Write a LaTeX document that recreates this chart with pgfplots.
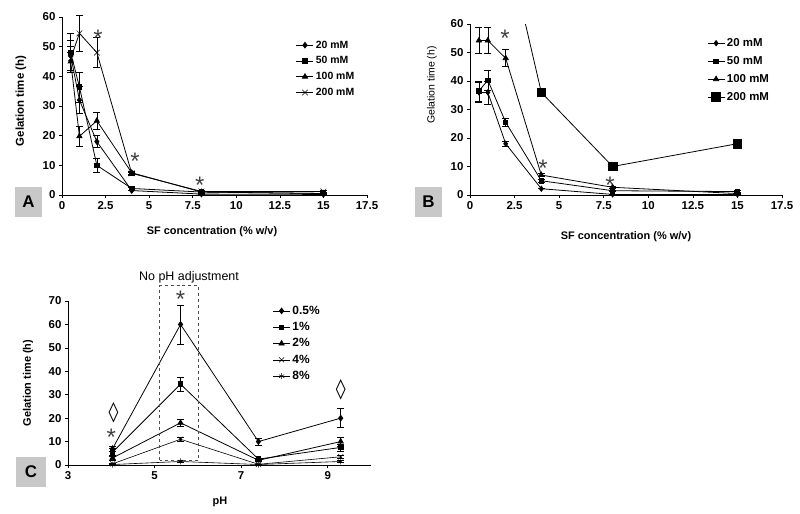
\documentclass[border=0pt]{standalone}
\usepackage{pgfplots}
\pgfplotsset{compat=1.18}
\usepackage{fontspec}
\setmainfont{Liberation Sans}
\newfontfamily\dejavu{DejaVu Sans}
\definecolor{boxgray}{RGB}{200,200,200}
\tikzset{
  ser/.style={black, line width=0.8pt, mark options={solid, fill=black}},
  ast/.style={font=\fontsize{24}{24}\selectfont, text=black!75, yshift=-5bp},
}
\pgfplotsset{
  panel/.style={
    scale only axis,
    axis x line*=bottom, axis y line*=left,
    tick align=outside, major tick length=3bp,
    tick style={black, line width=0.6pt},
    axis line style={black, line width=0.8pt},
    ticklabel style={font=\bfseries\fontsize{11.5}{12}\selectfont},
    /pgf/number format/assume math mode=true,
    legend cell align=left,
    cycle list={{black}},
    error bars/y dir=both, error bars/y explicit,
    error bars/error bar style={black, line width=0.6pt},
    error bars/error mark options={rotate=90, black, mark size=3.5bp, line width=0.6pt},
  },
}
\begin{document}
\begin{tikzpicture}
\useasboundingbox (0,0) rectangle (800bp,514bp);
% ---------------- Panel A ----------------
\begin{axis}[panel, at={(62bp,319bp)}, anchor=south west,
  width=305bp, height=178bp, xmin=0, xmax=17.5, ymin=0, ymax=60,
  xtick={0,2.5,5,7.5,10,12.5,15,17.5}, ytick={0,10,...,60},
  clip=false,
  legend style={at={(0.757,0.89)}, anchor=north west, draw=none, fill=none,
    font=\bfseries\fontsize{10.5}{11}\selectfont, row sep=3bp}]
\addplot[ser, mark=diamond*, mark size=2.8bp] table[y error=e]{
x y e
0.5 47 5
1 32 4.5
2 18 2
4 1.5 0
8 0.3 0
15 0.2 0
};
\addlegendentry{20 mM}
\addplot[ser, mark=square*, mark size=2.3bp] table[y error=e]{
x y e
0.5 48 6.5
1 36.4 5
2 10 2.5
4 2.2 0.5
8 1 0.3
15 0.5 0
};
\addlegendentry{50 mM}
\addplot[ser, mark=triangle*, mark size=3bp] table[y error=e]{
x y e
0.5 45 3
1 19.8 3.5
2 25 3
4 7.5 0.5
8 1 0.3
15 0.5 0
};
\addlegendentry{100 mM}
\addplot[ser, mark=x, mark size=4bp, mark options={line width=0.5pt}] table[y error=e]{
x y e
0.5 46 4
1 54.5 6
2 48 5
4 7.3 0.5
8 1.2 0.3
15 1.2 0.3
};
\addlegendentry{200 mM}
\node[ast] at (axis cs:2.07,54.5) {*};
\node[ast] at (axis cs:4.19,13.1) {*};
\node[ast] at (axis cs:7.9,5) {*};
\end{axis}
% ---------------- Panel B ----------------
\begin{axis}[panel, at={(470bp,319bp)}, anchor=south west,
  width=312bp, height=171bp, xmin=0, xmax=17.5, ymin=0, ymax=60,
  xtick={0,2.5,5,7.5,10,12.5,15,17.5}, ytick={0,10,...,60},
  clip mode=individual,
  legend style={at={(0.75,0.94)}, anchor=north west, draw=none, fill=none,
    font=\bfseries\fontsize{11.5}{12}\selectfont, row sep=4.5bp}]
\addplot[ser, mark=diamond*, mark size=2.6bp] table[y error=e]{
x y e
0.5 36 3.5
1 36 4
2 18 1
4 2.2 0
8 0.2 0
15 0.2 0
};
\addlegendentry{20 mM}
\addplot[ser, mark=square*, mark size=2.2bp] table[y error=e]{
x y e
0.5 36.5 3.5
1 40.3 3.5
2 25.5 1.5
4 5 0.5
8 1.5 0.3
15 1.2 0.3
};
\addlegendentry{50 mM}
\addplot[ser, mark=triangle*, mark size=3bp] table[y error=e]{
x y e
0.5 54.2 4.5
1 54.2 4.5
2 48 3
4 7 0.5
8 2.7 0.3
15 0.5 0
};
\addlegendentry{100 mM}
\addplot[ser, mark=square*, mark size=4.3bp] table[y error=e]{
x y e
2 90 0
4 36 0
8 10 0
15 18 0
};
\addlegendentry{200 mM}
\node[ast] at (axis cs:1.96,56.8) {*};
\node[ast] at (axis cs:4.1,11.2) {*};
\node[ast] at (axis cs:7.85,5.3) {*};
\end{axis}
% ---------------- Panel C ----------------
\begin{axis}[panel, at={(68bp,49bp)}, anchor=south west,
  width=303bp, height=164bp, xmin=3, xmax=10, ymin=0, ymax=70,
  xtick={3,5,7,9}, ytick={0,10,...,70},
  clip=false,
  legend style={at={(0.665,0.995)}, anchor=north west, draw=none, fill=none,
    font=\bfseries\fontsize{12}{12}\selectfont, row sep=2.5bp}]
\addplot[ser, mark=diamond*, mark size=2.8bp] table[y error=e]{
x y e
4.03 7 1
5.6 60 8.3
7.4 10 1.5
9.3 20 4
};
\addlegendentry{0.5\%}
\addplot[ser, mark=square*, mark size=2.3bp] table[y error=e]{
x y e
4.03 5.5 1.5
5.6 34.5 3
7.4 2.5 0.5
9.3 7.5 1.5
};
\addlegendentry{1\%}
\addplot[ser, mark=triangle*, mark size=3bp] table[y error=e]{
x y e
4.03 3 0.8
5.6 18 1.5
7.4 2 0.5
9.3 10 2
};
\addlegendentry{2\%}
\addplot[ser, mark=x, mark size=3.5bp, mark options={line width=0.5pt}, line width=0.6pt] table[y error=e]{
x y e
4.03 0.5 0.3
5.6 11 1
7.4 0.3 0.2
9.3 3.5 0.5
};
\addlegendentry{4\%}
\addplot[ser, mark=asterisk, mark size=3bp, mark options={line width=0.5pt}, line width=0.6pt] table[y error=e]{
x y e
4.03 0.2 0.2
5.6 1.5 0.3
7.4 0.2 0.1
9.3 1.5 0.5
};
\addlegendentry{8\%}
\draw[dashed, line width=0.7pt, black!70] (axis cs:5.12,2) rectangle (axis cs:6.02,76.5);
\node[ast] at (axis cs:4.0,14) {*};
\node[ast] at (axis cs:5.6,73) {*};
\node[font=\dejavu\fontsize{20}{20}\selectfont] at (axis cs:4.05,22.2) {◊};
\node[font=\dejavu\fontsize{20}{20}\selectfont] at (axis cs:9.3,32) {◊};
\end{axis}
% ---------------- labels and panel boxes ----------------
\node[rotate=90, font=\bfseries\fontsize{11.5}{12}\selectfont] at (21bp,413bp) {Gelation time (h)};
\node[font=\bfseries\fontsize{11}{12}\selectfont] at (212bp,282bp) {SF concentration (\% w/v)};
\node[rotate=90, font=\fontsize{10.5}{12}\selectfont] at (432bp,429bp) {Gelation time (h)};
\node[font=\bfseries\fontsize{11}{12}\selectfont] at (626bp,277bp) {SF concentration (\% w/v)};
\node[rotate=90, font=\bfseries\fontsize{11}{12}\selectfont] at (28bp,131bp) {Gelation time (h)};
\node[font=\bfseries\fontsize{11}{12}\selectfont] at (220bp,12bp) {pH};
\node[font=\fontsize{12.5}{14}\selectfont] at (189bp,237bp) {No pH adjustment};
\fill[boxgray] (15bp,297bp) rectangle (42bp,327bp);
\node[font=\bfseries\fontsize{17}{17}\selectfont] at (28.5bp,312bp) {A};
\fill[boxgray] (415bp,297bp) rectangle (442bp,327bp);
\node[font=\bfseries\fontsize{17}{17}\selectfont] at (428.5bp,312bp) {B};
\fill[boxgray] (16bp,27bp) rectangle (46bp,57bp);
\node[font=\bfseries\fontsize{17}{17}\selectfont] at (31bp,42bp) {C};
\end{tikzpicture}
\end{document}
